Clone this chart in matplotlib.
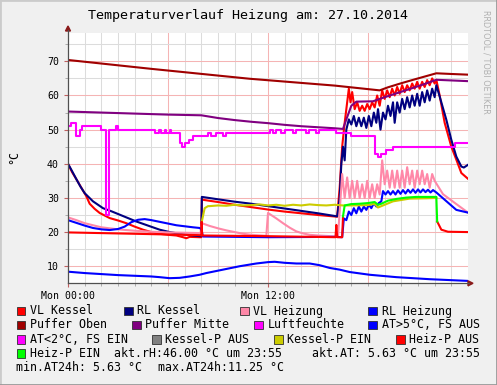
import matplotlib
matplotlib.use("Agg")
import matplotlib.pyplot as plt
from matplotlib.lines import Line2D
from matplotlib.patches import Rectangle, Polygon
import numpy as np

# --- data (hours since Mon 00:00, degC / %rH) ---
vl_kessel_t = [0, 0.25, 0.5, 0.8, 1.1, 1.3, 1.6, 1.9, 2.5, 3.0, 3.5, 4.0, 4.5, 5.0, 5.5, 6.0, 6.5,
               6.9, 7.1, 7.3, 7.9, 8.0, 8.03, 9, 10, 11, 12, 13, 14, 15, 16.15,
               16.3, 16.45, 16.6, 16.75, 16.85, 16.95, 17.05, 17.2, 17.35, 17.5, 17.65, 17.8, 17.95,
               18.1, 18.25, 18.4, 18.55, 18.7, 18.85, 19.0, 19.15, 19.3, 19.45, 19.6, 19.75, 19.9,
               20.05, 20.2, 20.35, 20.5, 20.65, 20.8, 20.95, 21.1, 21.25, 21.4, 21.55, 21.7, 21.85,
               22.0, 22.1, 22.3, 22.6, 23.0, 23.3, 23.6, 24.0]
vl_kessel = [40.0, 37.5, 35.5, 33.0, 30.5, 28.3, 26.8, 25.6, 24.1, 23.4, 22.6, 21.6, 20.7, 20.0, 19.5,
             19.2, 19.0, 18.5, 18.2, 18.6, 18.5, 18.5, 29.5, 28.8, 28.0, 27.3, 26.6, 26.0, 25.5, 25.0, 24.5,
             33, 45, 52, 58, 62, 58, 61, 56, 58, 55.5, 57, 55.5, 57.5,
             56, 58, 56.5, 60, 57, 61.5, 59, 61.5, 59.5, 62, 60, 62.5, 60.5,
             63, 61, 63, 61.5, 63.5, 62, 64, 62, 64, 62.5, 64.5, 63, 65,
             63.5, 64.6, 60, 52, 45, 41.2, 37.3, 35.6]

rl_kessel_t = [0, 0.25, 0.5, 0.75, 1.0, 1.5, 2.1, 2.6, 3.1, 3.6, 4.1, 4.8, 5.5, 6.1, 6.7, 7.3, 7.9, 8.0,
               8.03, 9, 10, 11, 12, 13, 14, 15, 16.15,
               16.3, 16.4, 16.5, 16.6, 16.7, 16.85, 17.0, 17.15, 17.3, 17.45, 17.6, 17.75, 17.9, 18.05,
               18.2, 18.35, 18.5, 18.6, 18.75, 18.9, 19.05, 19.2, 19.35, 19.5, 19.6, 19.75, 19.9,
               20.05, 20.2, 20.35, 20.5, 20.65, 20.8, 20.95, 21.1, 21.25, 21.4, 21.55, 21.7, 21.85,
               22.0, 22.1, 22.3, 22.7, 23.0, 23.3, 23.6, 23.75, 24.0]
rl_kessel = [40.0, 37.8, 35.5, 33.3, 31.4, 29.0, 27.0, 26.1, 25.1, 24.1, 23.1, 21.9, 20.7, 20.0, 19.5,
             19.1, 18.8, 18.8, 30.3, 29.6, 28.9, 28.3, 27.6, 26.9, 26.2, 25.5, 24.6,
             30, 40, 45, 41, 50, 53, 51.5, 54, 51, 53.5, 51, 53.5, 50.5, 54,
             51, 55, 52, 56, 50, 55, 53, 57, 54, 58, 52, 58, 55,
             59, 56, 59.5, 56.5, 60, 57, 60.5, 57, 61, 58, 61.5, 58.5, 62,
             59.5, 63, 59.7, 52.9, 47.0, 42.1, 39.2, 38.9, 39.7]

vl_heizung_t = [0, 0.5, 1, 1.5, 2, 3, 4, 5, 6, 7, 7.95, 8.03, 8.5, 9.0, 9.5, 10.0, 10.5, 11, 11.9,
                12.0, 12.5, 12.9, 13.3, 13.7, 14.1, 14.5, 15, 16.2,
                16.45, 16.6, 16.75, 16.9, 17.05, 17.2, 17.35, 17.5, 17.65, 17.8, 17.95, 18.1, 18.25,
                18.4, 18.55, 18.7, 18.85, 19.0, 19.15, 19.3, 19.45, 19.6, 19.75, 19.9, 20.05, 20.2,
                20.35, 20.5, 20.65, 20.8, 20.95, 21.1, 21.25, 21.4, 21.55, 21.7, 21.85, 22.0,
                22.5, 23.3, 24.0]
vl_heizung = [24.3, 23.5, 22.6, 22.0, 21.4, 20.8, 20.4, 20.1, 19.9, 19.8, 19.7, 22.6, 21.8, 21.1, 20.5,
              20.0, 19.5, 19.2, 18.9, 25.6, 24.0, 22.6, 21.3, 20.2, 19.6, 19.2, 19.0, 18.7,
              37, 30, 36, 30, 35, 30, 35, 30, 34, 30, 35, 30, 34,
              30, 34, 31, 41, 34, 38, 33, 38, 33, 38, 33, 38, 33,
              39, 34, 38, 33, 38, 34, 38, 34, 37, 33, 37, 35,
              31.1, 28.2, 25.7]

rl_heizung_t = [0, 0.5, 1, 1.5, 2.0, 2.5, 3.0, 3.4, 3.8, 4.2, 4.6, 5.0, 5.5, 6.0, 6.5, 7.0, 7.5, 7.9,
                8.0, 8.1, 12, 16.1, 16.45, 16.55, 16.7, 16.85, 17.0, 17.15, 17.3, 17.45, 17.6, 17.75,
                17.9, 18.05, 18.2, 18.35, 18.5, 18.65, 18.8, 18.9, 19.05, 19.2, 19.35, 19.5, 19.65,
                19.8, 19.95, 20.1, 20.25, 20.4, 20.55, 20.7, 20.85, 21.0, 21.15, 21.3, 21.45, 21.6,
                21.75, 21.9, 22.1, 22.9, 23.3, 24.0]
rl_heizung = [23.5, 22.7, 21.9, 21.2, 20.8, 20.6, 20.9, 21.6, 22.9, 23.6, 23.8, 23.5, 23.0, 22.5, 22.0,
              21.7, 21.4, 21.2, 20.8, 18.7, 18.5, 18.6, 18.5, 24, 23.5, 26, 25, 27, 25.5, 27.5, 26, 27.5,
              26.5, 28, 27, 28.5, 27.5, 28.5, 29, 32, 31, 32, 31, 32, 31,
              32.2, 31.2, 32.3, 31.3, 32.4, 31.5, 32.5, 31.5, 32.5, 31.6, 32.5, 31.7, 32.4,
              31.6, 32.3, 31.6, 28.2, 26.5, 25.7]

puffer_oben_t = [0, 5, 10.9, 16, 18.7, 19.2, 20, 21, 22.1, 23, 24]
puffer_oben = [70.4, 67.8, 64.9, 62.9, 61.5, 62.4, 63.6, 65.0, 66.5, 66.3, 66.1]

puffer_mitte_t = [0, 2, 4, 6, 7, 8, 8.5, 9, 10, 11, 12, 13, 14, 15, 16, 16.5, 16.7, 17.0, 17.3,
                  18.3, 18.7, 19.5, 20.5, 21.3, 22.1, 24]
puffer_mitte = [55.3, 55.0, 54.7, 54.4, 54.3, 54.2, 53.8, 53.4, 52.8, 52.3, 51.9, 51.4, 51.0, 50.7,
                50.4, 50.2, 53, 57, 58.2, 58.3, 59.0, 60.3, 61.9, 63.2, 64.6, 64.2]

luft_t = [0, 0.15, 0.5, 0.7, 0.85, 2.0, 2.3, 2.45, 2.9, 3.0, 5.2, 5.45, 5.55, 5.8, 5.9, 6.1, 6.2,
          6.7, 6.85, 7.0, 7.25, 7.5, 8.4, 8.6, 8.85, 9.3, 9.5, 12.1, 12.3, 12.45, 12.8, 13.0, 13.5,
          13.7, 14.3, 14.45, 14.9, 15.05, 16.1, 16.95, 18.4, 18.6, 18.75, 19.1, 19.5, 23.2, 24.0]
luft = [51, 52, 48, 50, 51, 50, 25, 50, 51, 50, 49, 50, 49, 50, 49, 50, 49,
        46, 45, 46, 47, 48, 49, 48, 49, 48, 49, 50, 49, 50, 49, 50, 49,
        50, 49, 50, 49, 50, 49, 48, 43, 42, 43, 44, 45, 46, 46]

at_t = [0, 1, 2, 3, 4, 5, 5.5, 6.1, 6.7, 7.3, 7.9, 8.3, 9.3, 10.3, 11.3, 12.0, 12.4, 13.0, 13.7,
        14.5, 15.1, 15.7, 16.3, 16.9, 18.1, 19.7, 21.7, 24.0]
at_aussen = [8.4, 8.0, 7.7, 7.4, 7.2, 7.0, 6.8, 6.5, 6.6, 7.0, 7.5, 8.0, 9.0, 10.0, 10.8, 11.2, 11.3,
             11.0, 10.8, 10.8, 10.3, 9.5, 9.0, 8.3, 7.5, 6.8, 6.2, 5.7]

kp_ein_t = [8.03, 8.2, 8.4, 8.5, 9, 9.5, 10, 10.5, 11, 11.5, 12, 12.5, 13, 13.5, 14, 14.5, 15, 15.5,
            16, 16.5, 17, 18, 18.4, 18.6, 18.9, 19.5, 20.5, 21.5, 22.1]
kp_ein = [23.1, 27.0, 27.6, 27.6, 27.8, 27.7, 28.0, 27.8, 27.9, 28.1, 27.8, 28.0, 27.7, 28.0, 27.8,
          28.1, 27.9, 27.8, 28.0, 27.8, 27.8, 27.9, 28.3, 27.2, 27.8, 29.0, 29.8, 29.9, 30.0]

hp_aus_t = [0, 4, 7.9, 8.0, 8.02, 8.05, 12, 16.05, 16.1, 16.15, 16.45, 16.5,
            22.15, 22.4, 22.8, 24]
hp_aus = [19.9, 19.5, 19.1, 19.0, 23.0, 19.0, 18.8, 18.5, 22.1, 18.5, 18.5, 24.6,
          23.1, 20.7, 20.1, 20.0]
hp_aus_gap = (16.5, 22.15)

hp_ein_t = [16.5, 16.6, 17.0, 17.5, 18.0, 18.4, 18.6, 18.8, 19.2, 19.7, 20.3, 20.9, 21.5, 22.1, 22.15]
hp_ein = [24.6, 27.8, 28.2, 28.3, 28.5, 28.8, 28.0, 28.3, 29.2, 29.7, 30.1, 30.3, 30.3, 30.3, 23.1]

legend_labels = ["VL Kessel", "RL Kessel", "VL Heizung", "RL Heizung",
                 "Puffer Oben", "Puffer Mitte", "Luftfeuchte", "AT>5°C, FS AUS",
                 "AT<2°C, FS EIN", "Kessel-P AUS", "Kessel-P EIN", "Heiz-P AUS",
                 "Heiz-P EIN"]
legend_colors = ["#ff0000", "#000080", "#ff88a8", "#0000ff",
                 "#a00000", "#800080", "#ff00ff", "#0000ff",
                 "#ff00ff", "#808080", "#cccc00", "#ff0000",
                 "#00ff00"]

akt_rh = 46.00
akt_at = 5.63
min_at = 5.63
max_at = 11.25

title = "Temperaturverlauf Heizung am: 27.10.2014"
x_labels = ["Mon 00:00", "Mon 12:00"]
x_label_pos = [0, 12]

W, H = 497, 385
MONO = "DejaVu Sans Mono"


def fx(x):
    return x / W


def fy(y):
    return 1 - y / H


fig = plt.figure(figsize=(W / 100, H / 100), dpi=100, facecolor="#f0f0f0")
ax = fig.add_axes([fx(68), fy(283.3), (468 - 68) / W, (283.3 - 33) / H])
ax.set_facecolor("white")
ax.set_xlim(0, 24)
ax.set_ylim(5, 78.3)

grid_red = "#f5b4b4"
grid_gray = "#dcdcdc"
for h in range(1, 24):
    ax.axvline(h, color=grid_red if h % 6 == 0 else grid_gray, lw=0.75, zorder=0)
for v in range(10, 78, 5):
    ax.axhline(v, color=grid_red if v % 10 == 0 else grid_gray, lw=0.75, zorder=0)

lw = 1.5
c = legend_colors
ax.plot(vl_kessel_t, vl_kessel, color=c[0], lw=lw)
ax.plot(rl_kessel_t, rl_kessel, color=c[1], lw=lw)
ax.plot(vl_heizung_t, vl_heizung, color=c[2], lw=lw)
ax.plot(rl_heizung_t, rl_heizung, color=c[3], lw=lw)
ax.plot(puffer_oben_t, puffer_oben, color=c[4], lw=lw)
ax.plot(puffer_mitte_t, puffer_mitte, color=c[5], lw=lw)
ax.step(luft_t, luft, where="post", color=c[6], lw=lw)
ax.plot(at_t, at_aussen, color=c[7], lw=lw)
ax.plot(kp_ein_t, kp_ein, color=c[10], lw=lw)
# heiz-p aus: two pieces, gap while pump is on
t = np.array(hp_aus_t)
v = np.array(hp_aus)
first = t <= hp_aus_gap[0]
ax.plot(t[first], v[first], color=c[11], lw=lw)
ax.plot(t[~first], v[~first], color=c[11], lw=lw)
ax.plot(hp_ein_t, hp_ein, color=c[12], lw=lw)

for s in ax.spines.values():
    s.set_visible(False)

ax.set_yticks(range(10, 71, 10))
ax.set_yticks(range(15, 76, 10), minor=True)
ax.set_xticks(x_label_pos, labels=x_labels)
ax.set_xticks(range(0, 25), minor=True)
ax.tick_params(axis="y", which="major", length=3, width=0.8, color="#c06060", pad=3.5,
               labelsize=7.1, labelfontfamily=MONO)
ax.tick_params(axis="y", which="minor", length=2, width=0.6, color="#a0a0a0")
ax.tick_params(axis="x", which="major", length=3, width=0.8, color="#c06060", pad=2.4,
               labelsize=7.1, labelfontfamily=MONO)
ax.tick_params(axis="x", which="minor", length=2, width=0.6, color="#a0a0a0")

# axes with arrow heads
axis_col = "#505050"
arrow_col = "#8b1a1a"
fig.add_artist(Line2D([fx(68), fx(68)], [fy(283.3), fy(30)], color=axis_col, lw=0.9))
fig.add_artist(Line2D([fx(68), fx(469)], [fy(283.3), fy(283.3)], color=axis_col, lw=0.9))
fig.add_artist(Polygon([[fx(68), fy(26)], [fx(65.5), fy(31)], [fx(70.5), fy(31)]],
                       closed=True, color=arrow_col, transform=fig.transFigure))
fig.add_artist(Polygon([[fx(473), fy(283.3)], [fx(468), fy(280.8)], [fx(468), fy(285.8)]],
                       closed=True, color=arrow_col, transform=fig.transFigure))

fig.text(fx(248), fy(16), title, ha="center", va="center", fontsize=9.6, family=MONO)
fig.text(fx(14), fy(157), "°C", ha="center", va="center", rotation=90, fontsize=8.4,
         family=MONO)
fig.text(fx(486), fy(62), "RRDTOOL / TOBI OETIKER", ha="center", va="center", rotation=270,
         fontsize=5.9, color="#b0b0b0")

# legend
box_x = [16.5, 124, 240, 368.3, 16.5, 132, 254, 368.3, 16.5, 152, 274, 396, 16.5]
row_y = [311] * 4 + [325] * 4 + [339.3] * 4 + [353.3]
for lab, col, bx, by in zip(legend_labels, legend_colors, box_x, row_y):
    fig.add_artist(Rectangle((fx(bx), fy(by + 4.3)), 8.5 / W, 8.5 / H, transform=fig.transFigure,
                             facecolor=col, edgecolor="#303030", lw=0.6))
    fig.text(fx(bx + 13.3), fy(by), lab, ha="left", va="center", fontsize=8.4, family=MONO)

fig.text(fx(114), fy(353.3), f"akt.rH:{akt_rh:5.2f} °C um 23:55", ha="left", va="center",
         fontsize=8.4, family=MONO)
fig.text(fx(311.5), fy(353.3), f"akt.AT:{akt_at:5.2f} °C um 23:55", ha="left", va="center",
         fontsize=8.4, family=MONO)
fig.text(fx(16), fy(367.7), f"min.AT24h:{min_at:5.2f} °C", ha="left", va="center",
         fontsize=8.4, family=MONO)
fig.text(fx(158), fy(367.7), f"max.AT24h:{max_at:5.2f} °C", ha="left", va="center",
         fontsize=8.4, family=MONO)

# shaded border
fig.add_artist(Line2D([0, 0, 1], [0, 1, 1], color="#cbcbcb", lw=2, transform=fig.transFigure))
fig.add_artist(Line2D([0, 1, 1], [0, 0, 1], color="#999999", lw=2, transform=fig.transFigure))

fig.savefig("out.png", dpi=100, facecolor=fig.get_facecolor())
